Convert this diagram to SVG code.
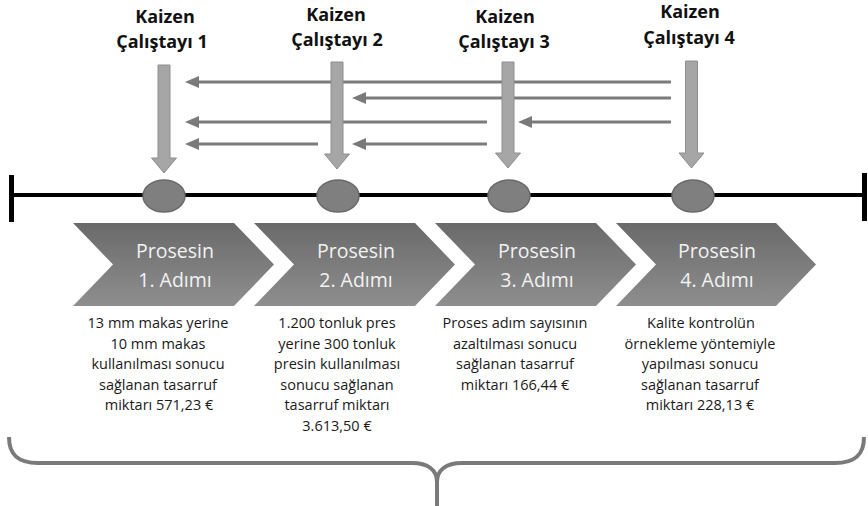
<svg xmlns="http://www.w3.org/2000/svg" width="868" height="506" viewBox="0 0 868 506">
<style>
.title{font-family:"Open Sans","Liberation Sans",sans-serif;font-weight:bold;font-size:18px;fill:#111;text-anchor:middle}
.chevtxt{font-family:"Open Sans","Liberation Sans",sans-serif;font-size:19.5px;fill:#f2f2f2;text-anchor:middle}
.body{font-family:"Open Sans","Liberation Sans",sans-serif;font-size:14.5px;fill:#1a1a1a;text-anchor:middle}
.down{fill:#a6a6a6;stroke:#8e8e8e;stroke-width:1}
.conn{stroke:#7a7a7a;stroke-width:3;fill:none;marker-end:url(#ah)}
.dot{fill:#7f7f7f;stroke:#6a6a6a;stroke-width:1.5}
.chev{fill:url(#chevgrad)}
</style>
<defs>
<linearGradient id="chevgrad" x1="0" y1="0" x2="0" y2="1">
<stop offset="0" stop-color="#6a6a6a"/>
<stop offset="1" stop-color="#8e8e8e"/>
</linearGradient>
<marker id="ah" markerUnits="userSpaceOnUse" markerWidth="14" markerHeight="12" refX="6" refY="6" orient="auto">
<path d="M0,0 L14,6 L0,12 Z" fill="#7a7a7a"/>
</marker>
</defs>
<rect width="868" height="506" fill="#ffffff"/>

<g id="connectors">
<line class="conn" x1="671" y1="82" x2="193" y2="82"/>
<line class="conn" x1="671" y1="98" x2="360" y2="98"/>
<line class="conn" x1="487" y1="122" x2="193" y2="122"/>
<line class="conn" x1="671" y1="122" x2="526" y2="122"/>
<line class="conn" x1="318" y1="144" x2="193" y2="144"/>
<line class="conn" x1="487" y1="144" x2="360" y2="144"/>
</g>

<g id="timeline">
<line x1="12" y1="195" x2="864" y2="195" stroke="#000" stroke-width="4"/>
<rect x="9" y="175" width="5" height="47" fill="#000"/>
<rect x="862" y="173" width="5" height="48" fill="#000"/>
</g>

<g id="kaizen1">
<text class="title" x="165" y="23">Kaizen</text>
<text class="title" x="162" y="48">Çalıştayı 1</text>
<polygon class="down" points="158,65 170,65 170,158 176.5,158 164,173 151.5,158 158,158"/>
<ellipse class="dot" cx="164" cy="196" rx="21" ry="16"/>
</g>
<g id="kaizen2">
<text class="title" x="336" y="21">Kaizen</text>
<text class="title" x="337" y="46">Çalıştayı 2</text>
<polygon class="down" points="331,62 343,62 343,154 349.5,154 337,169 324.5,154 331,154"/>
<ellipse class="dot" cx="338" cy="196" rx="21" ry="16"/>
</g>
<g id="kaizen3">
<text class="title" x="505" y="23">Kaizen</text>
<text class="title" x="504" y="48">Çalıştayı 3</text>
<polygon class="down" points="502,62 514,62 514,153 520.5,153 508,168 495.5,153 502,153"/>
<ellipse class="dot" cx="509" cy="196" rx="21" ry="16"/>
</g>
<g id="kaizen4">
<text class="title" x="690" y="18">Kaizen</text>
<text class="title" x="689" y="44">Çalıştayı 4</text>
<polygon class="down" points="685.5,61 697.5,61 697.5,153 704,153 691.5,168 679,153 685.5,153"/>
<ellipse class="dot" cx="693" cy="196" rx="21" ry="16"/>
</g>

<g id="step1">
<path class="chev" d="M73,223 L234,223 L274,264.5 L234,306 L73,306 L113,264.5 Z"/>
<text class="chevtxt" x="175" y="258">Prosesin</text>
<text class="chevtxt" x="175" y="287">1. Adımı</text>
<text class="body" x="158" y="328">13 mm makas yerine</text>
<text class="body" x="158" y="348.6">10 mm makas</text>
<text class="body" x="158" y="369.2">kullanılması sonucu</text>
<text class="body" x="158" y="389.8">sağlanan tasarruf</text>
<text class="body" x="159" y="410.4">miktarı 571,23 €</text>
</g>
<g id="step2">
<path class="chev" d="M254,223 L415,223 L455,264.5 L415,306 L254,306 L294,264.5 Z"/>
<text class="chevtxt" x="356" y="258">Prosesin</text>
<text class="chevtxt" x="356" y="287">2. Adımı</text>
<text class="body" x="337" y="328">1.200 tonluk pres</text>
<text class="body" x="337" y="348.6">yerine 300 tonluk</text>
<text class="body" x="337" y="369.2">presin kullanılması</text>
<text class="body" x="337" y="389.8">sonucu sağlanan</text>
<text class="body" x="337" y="410.4">tasarruf miktarı</text>
<text class="body" x="337" y="431">3.613,50 €</text>
</g>
<g id="step3">
<path class="chev" d="M435,223 L596,223 L636,264.5 L596,306 L435,306 L475,264.5 Z"/>
<text class="chevtxt" x="537" y="258">Prosesin</text>
<text class="chevtxt" x="537" y="287">3. Adımı</text>
<text class="body" x="515" y="328">Proses adım sayısının</text>
<text class="body" x="515" y="348.6">azaltılması sonucu</text>
<text class="body" x="515" y="369.2">sağlanan tasarruf</text>
<text class="body" x="515" y="389.8">miktarı 166,44 €</text>
</g>
<g id="step4">
<path class="chev" d="M616,223 L776,223 L816,264.5 L776,306 L616,306 L656,264.5 Z"/>
<text class="chevtxt" x="717" y="258">Prosesin</text>
<text class="chevtxt" x="717" y="287">4. Adımı</text>
<text class="body" x="701" y="328">Kalite kontrolün</text>
<text class="body" x="700" y="348.6">örnekleme yöntemiyle</text>
<text class="body" x="700" y="369.2">yapılması sonucu</text>
<text class="body" x="700" y="389.8">sağlanan tasarruf</text>
<text class="body" x="700" y="410.4">miktarı 228,13 €</text>
</g>

<g id="brace" fill="none" stroke="#7a7a7a" stroke-width="4">
<path d="M9,437 C9,455 18,463 38,463 L412,463 C428,463 437,470 437,482 L437,506"/>
<path d="M437,482 C437,470 446,463 462,463 L835,463 C855,463 864,455 864,437"/>
</g>
</svg>
